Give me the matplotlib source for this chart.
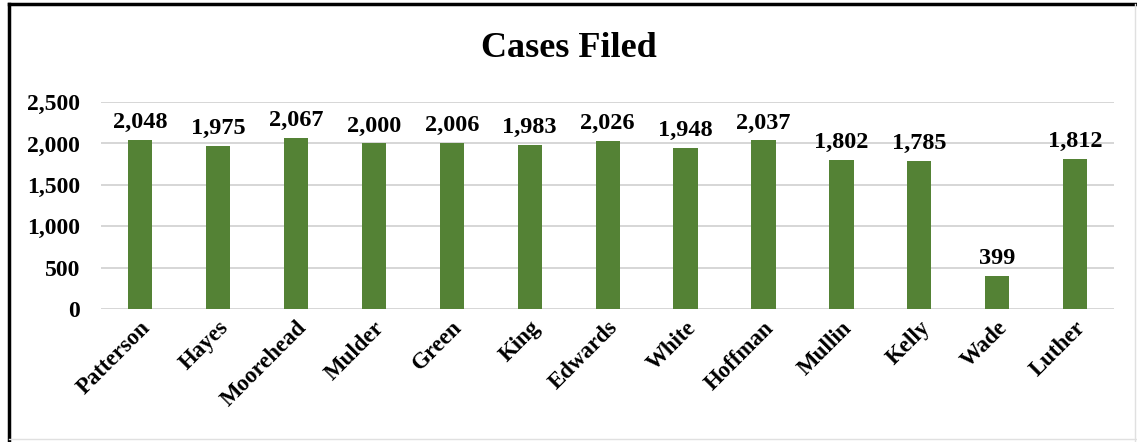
import numpy as np
import matplotlib as mpl
mpl.use("Agg")
import matplotlib.pyplot as plt
from matplotlib.lines import Line2D

mpl.rcParams['font.family'] = 'Liberation Serif'
mpl.rcParams['font.weight'] = 'bold'

names = ['Patterson', 'Hayes', 'Moorehead', 'Mulder', 'Green', 'King', 'Edwards',
         'White', 'Hoffman', 'Mullin', 'Kelly', 'Wade', 'Luther']
cases = [2048, 1975, 2067, 2000, 2006, 1983, 2026, 1948, 2037, 1802, 1785, 399, 1812]
yticks = [0, 500, 1000, 1500, 2000, 2500]

fig = plt.figure(figsize=(11.37, 4.42), dpi=100)
ax = fig.add_axes([0.0888, 0.301, 0.8912, 0.468])

x = np.arange(len(names))
ax.bar(x, cases, width=0.31, color='#548235', zorder=2)
for xi, v in zip(x, cases):
    ax.annotate('{:,}'.format(v), (xi, v), xytext=(0, 5), textcoords='offset points',
                ha='center', va='bottom', fontsize=17.5, fontweight='bold')

ax.set_xlim(-0.5, len(names) - 0.5)
ax.set_ylim(0, 2500)
ax.set_yticks(yticks)
ax.set_yticklabels(['{:,}'.format(t) for t in yticks], fontsize=17, fontweight='bold')
ax.set_xticks(x)
ax.set_xticklabels(names, rotation=45, ha='right', rotation_mode='anchor',
                   fontsize=16.5, fontweight='bold')
ax.tick_params(length=0, pad=15)
ax.tick_params(axis='x', pad=6)
ax.yaxis.grid(color='#d0d0d0', linewidth=1.2, zorder=0)
for s in ax.spines.values():
    s.set_visible(False)

fig.text(0.5, 0.89, 'Cases Filed', ha='center', va='center', fontsize=26, fontweight='bold')

# outer frame
fig.add_artist(Line2D([0.008, 1.0], [0.99, 0.99], color='black', lw=2.5, transform=fig.transFigure))
fig.add_artist(Line2D([0.008, 0.008], [0.0, 0.99], color='black', lw=2.5, transform=fig.transFigure))
fig.add_artist(Line2D([0.998, 0.998], [0.0, 0.99], color='#e0e0e0', lw=1, transform=fig.transFigure))
fig.add_artist(Line2D([0.008, 1.0], [0.006, 0.006], color='#e0e0e0', lw=1, transform=fig.transFigure))

plt.savefig('out.png', dpi=100)
